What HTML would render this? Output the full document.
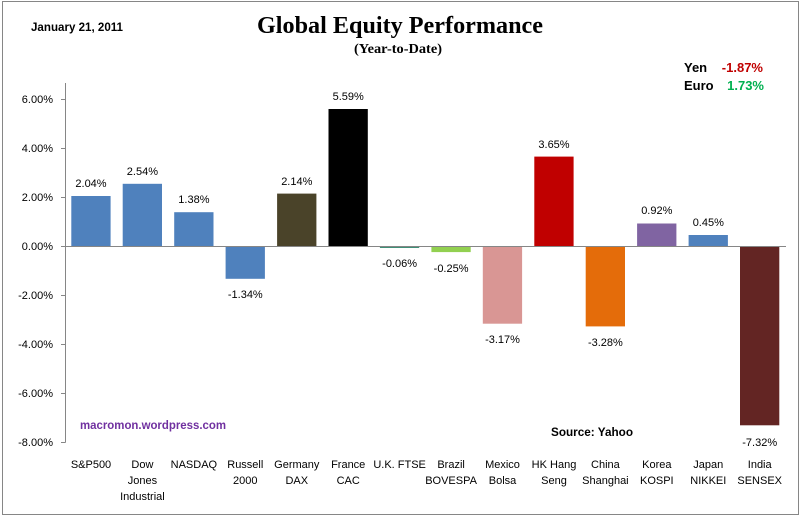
<!DOCTYPE html>
<html>
<head>
<meta charset="utf-8">
<style>
html,body{margin:0;padding:0;background:#fff;}
svg{display:block;}
text{font-family:"Liberation Sans",sans-serif;}
</style>
</head>
<body>
<svg width="802" height="521" viewBox="0 0 802 521" xmlns="http://www.w3.org/2000/svg">
<rect x="0" y="0" width="802" height="521" fill="#fff"/>
<rect x="2.5" y="1.5" width="796" height="513" fill="#fff" stroke="#868686" stroke-width="1"/>

<!-- Header texts -->
<text x="31" y="31" font-size="11.5" font-weight="bold" fill="#000" textLength="92" lengthAdjust="spacingAndGlyphs">January 21, 2011</text>
<text x="400" y="33" font-size="24" font-weight="bold" fill="#000" text-anchor="middle" style="font-family:'Liberation Serif',serif" textLength="286" lengthAdjust="spacingAndGlyphs">Global Equity Performance</text>
<text x="398" y="53" font-size="14" font-weight="bold" fill="#000" text-anchor="middle" style="font-family:'Liberation Serif',serif" textLength="88" lengthAdjust="spacingAndGlyphs">(Year-to-Date)</text>

<text x="684" y="72" font-size="13" font-weight="bold" fill="#000">Yen</text>
<text x="763" y="72" font-size="13" font-weight="bold" fill="#C00000" text-anchor="end">-1.87%</text>
<text x="684" y="90" font-size="13" font-weight="bold" fill="#000">Euro</text>
<text x="764" y="90" font-size="13" font-weight="bold" fill="#00B050" text-anchor="end">1.73%</text>

<text x="80" y="429" font-size="11.5" font-weight="bold" fill="#7030A0" textLength="146" lengthAdjust="spacingAndGlyphs">macromon.wordpress.com</text>
<text x="551" y="436" font-size="11.5" font-weight="bold" fill="#000" textLength="82" lengthAdjust="spacingAndGlyphs">Source:  Yahoo</text>

<!-- Y axis labels -->
<g font-size="11" fill="#000" text-anchor="end">
<text x="53" y="103">6.00%</text>
<text x="53" y="152">4.00%</text>
<text x="53" y="201">2.00%</text>
<text x="53" y="250">0.00%</text>
<text x="53" y="299">-2.00%</text>
<text x="53" y="348">-4.00%</text>
<text x="53" y="397">-6.00%</text>
<text x="53" y="446">-8.00%</text>
</g>

<!-- Bars -->
<rect x="71.3" y="196.0" width="39.3" height="50.0" fill="#4F81BD"/>
<rect x="122.7" y="183.8" width="39.3" height="62.2" fill="#4F81BD"/>
<rect x="174.2" y="212.2" width="39.3" height="33.8" fill="#4F81BD"/>
<rect x="225.6" y="246" width="39.3" height="32.8" fill="#4F81BD"/>
<rect x="277.1" y="193.6" width="39.3" height="52.4" fill="#4A4329"/>
<rect x="328.5" y="109.0" width="39.3" height="137.0" fill="#000000"/>
<rect x="379.9" y="246" width="39.3" height="2" fill="#3F8F77"/>
<rect x="431.4" y="246" width="39.3" height="6.1" fill="#92D050"/>
<rect x="482.8" y="246" width="39.3" height="77.7" fill="#D99694"/>
<rect x="534.3" y="156.6" width="39.3" height="89.4" fill="#C00000"/>
<rect x="585.7" y="246" width="39.3" height="80.4" fill="#E46C0A"/>
<rect x="637.1" y="223.5" width="39.3" height="22.5" fill="#8064A2"/>
<rect x="688.6" y="235.0" width="39.3" height="11.0" fill="#4F81BD"/>
<rect x="740.0" y="246" width="39.3" height="179.3" fill="#632523"/>

<!-- Axes -->
<g stroke="#868686" stroke-width="1">
<line x1="65.5" y1="83" x2="65.5" y2="442.5"/>
<line x1="65" y1="246.5" x2="786" y2="246.5"/>
<line x1="61" y1="99.5" x2="65.5" y2="99.5"/>
<line x1="61" y1="148.5" x2="65.5" y2="148.5"/>
<line x1="61" y1="197.5" x2="65.5" y2="197.5"/>
<line x1="61" y1="246.5" x2="65.5" y2="246.5"/>
<line x1="61" y1="295.5" x2="65.5" y2="295.5"/>
<line x1="61" y1="344.5" x2="65.5" y2="344.5"/>
<line x1="61" y1="393.5" x2="65.5" y2="393.5"/>
<line x1="61" y1="442.5" x2="65.5" y2="442.5"/>
</g>

<!-- Value labels -->
<g font-size="11" fill="#000" text-anchor="middle">
<text x="91.0" y="187">2.04%</text>
<text x="142.4" y="175">2.54%</text>
<text x="193.9" y="203">1.38%</text>
<text x="245.3" y="298">-1.34%</text>
<text x="296.8" y="185">2.14%</text>
<text x="348.2" y="100">5.59%</text>
<text x="399.6" y="267">-0.06%</text>
<text x="451.1" y="272">-0.25%</text>
<text x="502.5" y="343">-3.17%</text>
<text x="554.0" y="148">3.65%</text>
<text x="605.4" y="346">-3.28%</text>
<text x="656.8" y="214">0.92%</text>
<text x="708.3" y="226">0.45%</text>
<text x="759.7" y="446">-7.32%</text>
</g>

<!-- Category labels -->
<g font-size="11" fill="#000" text-anchor="middle">
<text x="91.0" y="468">S&amp;P500</text>
<text x="142.4" y="468">Dow</text>
<text x="142.4" y="484">Jones</text>
<text x="142.4" y="500">Industrial</text>
<text x="193.9" y="468">NASDAQ</text>
<text x="245.3" y="468">Russell</text>
<text x="245.3" y="484">2000</text>
<text x="296.8" y="468">Germany</text>
<text x="296.8" y="484">DAX</text>
<text x="348.2" y="468">France</text>
<text x="348.2" y="484">CAC</text>
<text x="399.6" y="468">U.K. FTSE</text>
<text x="451.1" y="468">Brazil</text>
<text x="451.1" y="484">BOVESPA</text>
<text x="502.5" y="468">Mexico</text>
<text x="502.5" y="484">Bolsa</text>
<text x="554.0" y="468">HK Hang</text>
<text x="554.0" y="484">Seng</text>
<text x="605.4" y="468">China</text>
<text x="605.4" y="484">Shanghai</text>
<text x="656.8" y="468">Korea</text>
<text x="656.8" y="484">KOSPI</text>
<text x="708.3" y="468">Japan</text>
<text x="708.3" y="484">NIKKEI</text>
<text x="759.7" y="468">India</text>
<text x="759.7" y="484">SENSEX</text>
</g>
</svg>
</body>
</html>
